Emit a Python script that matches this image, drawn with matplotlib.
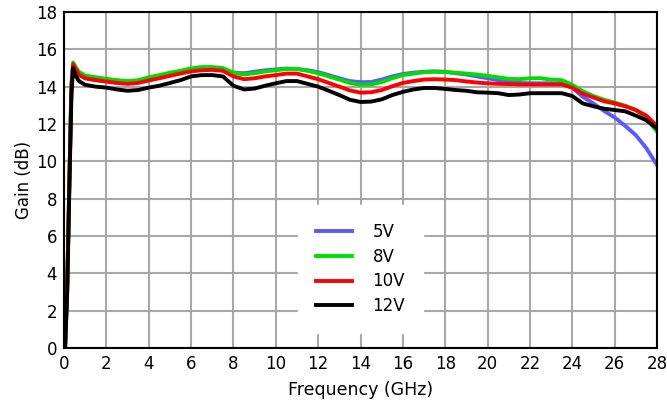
import matplotlib
matplotlib.use("Agg")
import matplotlib.pyplot as plt

freq = [0.05, 0.15, 0.25, 0.35, 0.43, 0.55, 0.7, 1, 1.5, 2, 2.5, 3, 3.5, 4, 4.5, 5, 5.5, 6, 6.5, 7, 7.5,
        8, 8.5, 9, 9.5, 10, 10.5, 11, 11.5, 12, 12.5, 13, 13.5, 14, 14.5, 15, 15.5, 16, 16.5, 17,
        17.5, 18, 18.5, 19, 19.5, 20, 20.5, 21, 21.5, 22, 22.5, 23, 23.5, 24, 24.5, 25, 25.5, 26,
        26.5, 27, 27.5, 28]

gain_5v = [0, 3.2, 8.8, 14.0, 15.1, 14.9, 14.65, 14.45, 14.35, 14.28, 14.22, 14.2, 14.25, 14.4,
           14.52, 14.65, 14.75, 14.88, 14.95, 14.95, 14.9, 14.75, 14.72, 14.8, 14.88, 14.92, 14.97,
           14.95, 14.88, 14.78, 14.62, 14.45, 14.3, 14.24, 14.25, 14.38, 14.55, 14.68, 14.75, 14.8,
           14.82, 14.8, 14.72, 14.65, 14.55, 14.45, 14.35, 14.28, 14.2, 14.18, 14.18, 14.18, 14.15,
           13.95, 13.45, 13.1, 12.7, 12.35, 11.9, 11.4, 10.7, 9.8]

gain_8v = [0, 3.3, 9.0, 14.2, 15.3, 15.05, 14.8, 14.6, 14.5, 14.42, 14.35, 14.3, 14.35, 14.5, 14.62,
           14.75, 14.85, 14.98, 15.05, 15.05, 15.0, 14.75, 14.65, 14.72, 14.82, 14.88, 14.95, 14.95,
           14.85, 14.72, 14.55, 14.38, 14.2, 14.1, 14.12, 14.25, 14.45, 14.62, 14.7, 14.78, 14.8,
           14.78, 14.75, 14.7, 14.65, 14.58, 14.5, 14.42, 14.4, 14.45, 14.45, 14.38, 14.35, 14.1,
           13.75, 13.5, 13.3, 13.15, 12.98, 12.75, 12.3, 11.6]

gain_10v = [0, 3.2, 8.8, 14.0, 15.2, 14.95, 14.65, 14.45, 14.35, 14.28, 14.2, 14.15, 14.2, 14.33,
            14.45, 14.58, 14.7, 14.82, 14.88, 14.9, 14.85, 14.55, 14.4, 14.45, 14.55, 14.62, 14.7,
            14.7, 14.55, 14.4, 14.2, 14.0, 13.8, 13.68, 13.7, 13.82, 14.02, 14.2, 14.3, 14.38, 14.4,
            14.38, 14.35, 14.28, 14.22, 14.18, 14.15, 14.14, 14.12, 14.12, 14.12, 14.12, 14.12,
            13.95, 13.62, 13.42, 13.22, 13.1, 12.95, 12.75, 12.45, 11.9]

gain_12v = [0, 3.0, 8.5, 13.6, 15.0, 14.6, 14.3, 14.1, 14.0, 13.95, 13.85, 13.78, 13.82, 13.95,
            14.05, 14.2, 14.35, 14.55, 14.62, 14.62, 14.55, 14.05, 13.85, 13.9, 14.05, 14.18, 14.3,
            14.3, 14.15, 14.0, 13.78, 13.55, 13.3, 13.18, 13.2, 13.32, 13.55, 13.72, 13.85, 13.93,
            13.93, 13.88, 13.82, 13.78, 13.7, 13.68, 13.65, 13.55, 13.58, 13.65, 13.65, 13.65, 13.65,
            13.5, 13.1, 12.95, 12.82, 12.75, 12.68, 12.45, 12.2, 11.75]

labels = ["5V", "8V", "10V", "12V"]
colors = ["#5a5aff", "#00dd00", "#ff0000", "#000000"]
series = [gain_5v, gain_8v, gain_10v, gain_12v]

x_ticks = list(range(0, 29, 2))
y_ticks = list(range(0, 19, 2))

fig = plt.figure(figsize=(6.67, 4.07), dpi=100)
ax = fig.add_axes([0.096, 0.145, 0.889, 0.8255])

for ys, c, lab in zip(series, colors, labels):
    ax.plot(freq, ys, color=c, lw=2.8, label=lab, solid_joinstyle="round")

ax.set_xlim(0, 28)
ax.set_ylim(0, 18)
ax.set_xticks(x_ticks)
ax.set_yticks(y_ticks)
ax.grid(True, color="#a8a8a8", lw=1.5)
ax.set_axisbelow(True)
ax.tick_params(length=0, labelsize=12, pad=5)
for s in ax.spines.values():
    s.set_color("black")
    s.set_linewidth(1.5)
ax.set_xlabel("Frequency (GHz)", fontsize=12.5, labelpad=6)
ax.set_ylabel("Gain (dB)", fontsize=12, labelpad=2)

leg = ax.legend(loc="center", bbox_to_anchor=(0.5, 0.235), frameon=True, fancybox=False,
                fontsize=12, handlelength=2.15, handletextpad=1.25, labelspacing=0.4,
                borderpad=1.1, borderaxespad=0)
leg.get_frame().set_edgecolor("white")
leg.get_frame().set_facecolor("white")
leg.get_frame().set_alpha(1)

fig.savefig("out.png", dpi=100)
